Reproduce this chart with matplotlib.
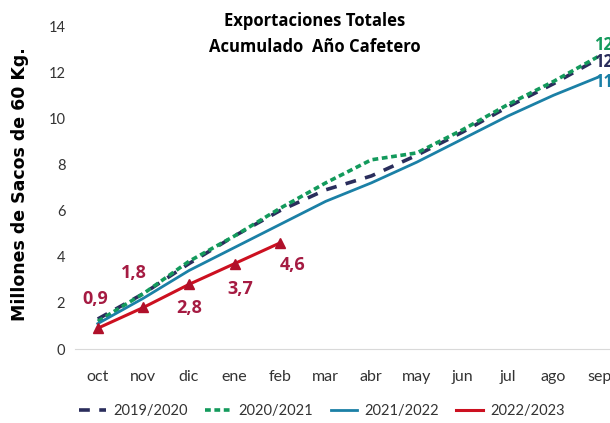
import matplotlib
matplotlib.use('Agg')
import matplotlib.pyplot as plt

months = ['oct', 'nov', 'dic', 'ene', 'feb', 'mar', 'abr', 'may', 'jun', 'jul', 'ago', 'sep']
s1920 = [1.3, 2.4, 3.7, 4.9, 6.0, 6.9, 7.5, 8.4, 9.4, 10.5, 11.5, 12.6]
s2021 = [1.2, 2.4, 3.8, 4.9, 6.1, 7.2, 8.2, 8.5, 9.5, 10.6, 11.6, 12.7]
s2122 = [1.1, 2.2, 3.4, 4.4, 5.4, 6.4, 7.2, 8.1, 9.1, 10.1, 11.0, 11.8]
s2223 = [0.9, 1.8, 2.8, 3.7, 4.6]
labels_2223 = ['0,9', '1,8', '2,8', '3,7', '4,6']
end_labels = ['12', '12', '11']

c_navy = '#2a2d5c'
c_green = '#139a5c'
c_blue = '#1b80a6'
c_red = '#cc1020'
c_lab = '#a51b42'

fig = plt.figure(figsize=(6.1, 4.23), dpi=100)
ax = fig.add_axes([75 / 610, 74 / 423, 547 / 610, 323 / 423])

x = list(range(len(months)))
ax.plot(x, s1920, color=c_navy, lw=2.6, dashes=(3, 2.6), label='2019/2020')
ax.plot(x, s2021, color=c_green, lw=2.6, dashes=(1.6, 1.0), label='2020/2021')
ax.plot(x, s2122, color=c_blue, lw=2, label='2021/2022')
ax.plot(x[:len(s2223)], s2223, color=c_red, lw=2.2, marker='^', ms=7,
        mfc='#b0102a', mec='#b0102a', label='2022/2023')

# data labels for 2022/2023
offs = [(-2, 21), (-7, 25), (0, -17), (4, -18), (9, -16)]
for i, (v, t) in enumerate(zip(s2223, labels_2223)):
    ax.annotate(t, (i, v), xytext=offs[i], textcoords='offset points',
                ha='center', va='center', color=c_lab, fontsize=13,
                fontweight='bold', family='Open Sans')

# end labels (clipped by the figure edge, as in the source)
last = len(months) - 1
for v, t, c, dy in zip([s2021[-1], s1920[-1], s2122[-1]], end_labels,
                       [c_green, c_navy, c_blue], [8, -3, -4]):
    ax.annotate(t, (last, v), xytext=(-4, dy), textcoords='offset points',
                ha='left', va='center', color=c, fontsize=12,
                fontweight='bold', family='Open Sans', annotation_clip=False)

ax.set_xlim(-0.5, 11.5)
ax.set_ylim(0, 14)
ax.set_xticks(x)
ax.set_xticklabels(months)
ax.set_yticks(range(0, 15, 2))
for s in ['top', 'right', 'left']:
    ax.spines[s].set_visible(False)
ax.spines['bottom'].set_color('#d9d9d9')
ax.tick_params(axis='both', length=0, colors='#333333')
ax.tick_params(axis='x', labelsize=11.5, pad=15)
ax.tick_params(axis='y', labelsize=10.5, pad=7)
for lab in ax.get_xticklabels() + ax.get_yticklabels():
    lab.set_family('Lato')

fig.text(20 / 610, 1 - 184 / 423, 'Millones de Sacos de 60 Kg.', rotation=90,
         ha='center', va='center', fontsize=12.5, fontweight='bold', family='DejaVu Sans')
fig.text(315 / 610, 1 - 34 / 423, 'Exportaciones Totales\nAcumulado  Año Cafetero',
         ha='center', va='center', fontsize=12, fontweight='bold',
         family='Open Sans', linespacing=1.55)

leg = fig.legend(loc='center', bbox_to_anchor=(322 / 610, 1 - 411 / 423), ncol=4,
                 frameon=False, fontsize=10.5, handlelength=1.8, columnspacing=1.2,
                 handletextpad=0.5, markerscale=0)
for t in leg.get_texts():
    t.set_family('Lato')
    t.set_color('#333333')

fig.savefig('out.png', dpi=100)
